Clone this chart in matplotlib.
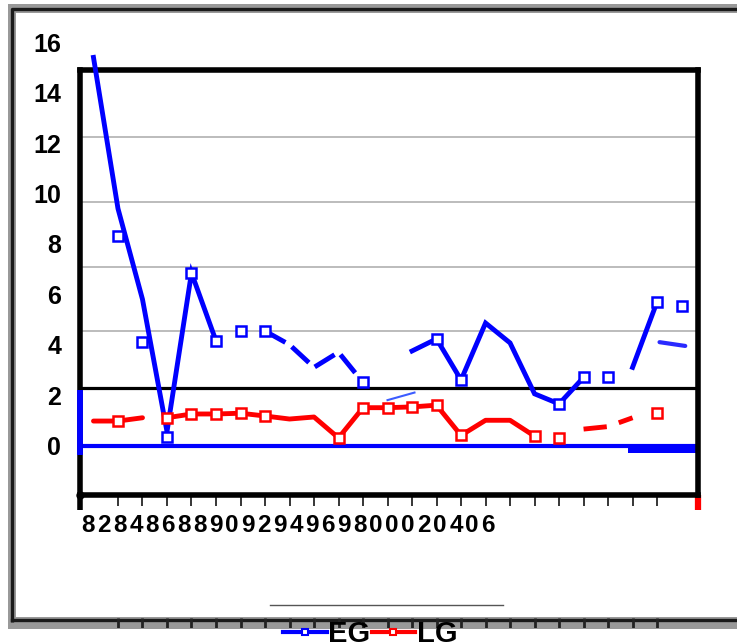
import numpy as np
import matplotlib
matplotlib.use("Agg")
import matplotlib.pyplot as plt
from matplotlib.lines import Line2D

nan = np.nan

# one category per year, 1982..2006
years = list(range(1982, 2007))
year_labels = ["82", "84", "86", "88", "90", "92", "94", "96", "98", "00", "02", "04", "06"]
y_labels = [0, 2, 4, 6, 8, 10, 12, 14, 16]

eg_line = [15.5, 9.5, 5.9, 0.65, 6.95, 4.25, 4.64, 4.64, 4.1, 3.2, 3.8, 2.6, nan,
           3.85, 4.33, 2.7, 4.96, 4.17, 2.15, 1.75, 2.8, 2.8, 3.2, 5.8, 5.65]
eg_marks = [nan, 8.4, 4.2, 0.45, 6.95, 4.25, 4.64, 4.64, nan, nan, nan, 2.6, nan,
            nan, 4.33, 2.7, nan, nan, nan, 1.75, 2.8, 2.8, nan, 5.8, 5.65]
eg_segments = [(0, 5), (7, 11), (13, 20), (22, 23)]

lg_line = [1.07, 1.07, 1.2, 1.2, 1.35, 1.35, 1.38, 1.27, 1.15, 1.23, 0.4, 1.6, 1.6,
           1.63, 1.7, 0.5, 1.1, 1.1, 0.47, 0.4, 0.75, 0.85, 1.2, 1.39, nan]
lg_marks = [nan, 1.07, nan, 1.2, 1.35, 1.35, 1.38, 1.27, nan, nan, 0.4, 1.6, 1.6,
            1.63, 1.7, 0.5, nan, nan, 0.47, 0.4, nan, nan, nan, 1.39, nan]
lg_segments = [(0, 2), (3, 18)]
lg_dashed = (20, 22)

# stray fragments of the blue series
ghost_x = [12.0, 13.1]
ghost_y = [1.9, 2.2]
dash_x = [23.1, 24.15]
dash_y = [4.2, 4.05]

grid_levels = [12.34, 9.76, 7.18, 4.64]
black_level = 2.38
zero_level = 0.08

W, H = 737, 644
plt.rcParams['font.family'] = ['Liberation Sans', 'DejaVu Sans']
fig = plt.figure(figsize=(W / 100, H / 100), dpi=100)

# frame around the whole picture
bg = fig.add_axes([0, 0, 1, 1], zorder=-1)
bg.set_xlim(0, W)
bg.set_ylim(H, 0)
bg.axis('off')
bg.add_patch(plt.Rectangle((8, 4), 800, 625, facecolor='#999999', edgecolor='none',
                           clip_on=False))
bg.plot([12, 12, W + 20], [622, 9, 9], color='#1a1a1a', lw=2.4, solid_capstyle='butt',
        clip_on=False)
bg.plot([12, W + 20], [620, 620], color='#1a1a1a', lw=2.4, clip_on=False)
bg.add_patch(plt.Rectangle((16, 13), 800, 604, facecolor='white', edgecolor='none',
                           clip_on=False))
bg.plot([270, 503], [605, 605], color='#555555', lw=1)

x = np.arange(len(years))
ax = fig.add_axes([80 / W, 1 - 495 / H, 618 / W, 425 / H])
ax.set_xlim(-0.55, 24.67)
ax.set_ylim(-1.865, 15.0)

# ruler marks on the bottom border, same spacing as the categories
ruler = fig.add_axes([80 / W, 1 - 628 / H, 618 / W, 11 / H], sharex=ax, zorder=-0.5)
ruler.axis('off')
ruler.vlines(range(1, 24), 0, 1, color='#222222', lw=2)

for lvl in grid_levels:
    ax.axhline(lvl, color='#aaaaaa', lw=1.1, zorder=1)
ax.axhline(black_level, color='black', lw=2.3, zorder=1)
ax.axhline(zero_level, color='#0000ff', lw=3, zorder=1)
ax.fill_between([21.8, 24.67], -0.2, 0.17, color='#0000ff', lw=0, zorder=1)

blue = '#0000ff'
red = '#ff0000'
eg = np.array(eg_line)
lg = np.array(lg_line)

for a, b in eg_segments:
    if (a, b) == (7, 11):
        ax.plot(x[a:b + 1], eg[a:b + 1], color=blue, lw=3.5, dashes=(4.8, 1.6),
                zorder=3, clip_on=False)
    else:
        ax.plot(x[a:b + 1], eg[a:b + 1], color=blue, lw=3.5, zorder=3,
                clip_on=False, solid_joinstyle='miter')
ax.plot(ghost_x, ghost_y, color='#3c5cff', lw=1.5, zorder=3)
ax.plot(dash_x, dash_y, color='#2a2aff', lw=3, zorder=3, solid_capstyle='round')

for a, b in lg_segments:
    ax.plot(x[a:b + 1], lg[a:b + 1], color=red, lw=3.5, zorder=3, solid_capstyle='round')
a, b = lg_dashed
ax.plot(x[a:b + 1], lg[a:b + 1], color=red, lw=3.5, dashes=(4.8, 2.6), zorder=3)

ax.plot(x, eg_marks, ls='none', marker='s', ms=7, mfc='white', mec=blue, mew=1.8,
        zorder=4, clip_on=False)
ax.plot(x, lg_marks, ls='none', marker='s', ms=7, mfc='white', mec=red, mew=1.8, zorder=4)

for s in ax.spines.values():
    s.set_linewidth(4)
    s.set_color('black')
ax.set_yticks([])
ax.set_xticks(range(1, 24))
ax.tick_params(axis='x', direction='out', length=8, width=1.1, color='black',
               labelbottom=False)

# spine leftovers
ax.plot([0, 0], [0, -15 / 425], transform=ax.transAxes, color='black', lw=4,
        clip_on=False, solid_capstyle='butt')
ax.plot([1, 1], [0, -15 / 425], transform=ax.transAxes, color=red, lw=4.5,
        clip_on=False, solid_capstyle='butt')
ax.plot([0], [0], transform=ax.transAxes, marker='o', ms=5, color='black', clip_on=False)
ax.plot([-0.55, -0.55], [2.3, -0.28], color=blue, lw=4.2, clip_on=False, zorder=5,
        solid_capstyle='butt')

for v in y_labels:
    ax.text(-19 / 618, v, str(v), transform=ax.get_yaxis_transform(), ha='right',
            va='center', fontsize=18, fontweight='bold')

chars = "".join(year_labels)
for j, ch in enumerate(chars):
    ax.text((8 + 16 * j) / 618, -31 / 425, ch, transform=ax.transAxes, ha='center',
            va='center', fontsize=17.5, fontweight='bold')

handles = [Line2D([], [], color=blue, lw=3, marker='s', ms=5, mfc='white', mec=blue, mew=1.5),
           Line2D([], [], color=red, lw=3, marker='s', ms=5, mfc='white', mec=red, mew=1.5)]
fig.legend(handles, ['EG', 'LG'], loc='center', bbox_to_anchor=(370 / W, 1 - 634 / H),
           ncol=2, frameon=False, handlelength=1.5, handletextpad=0.05,
           columnspacing=0.05, prop={'weight': 'bold', 'size': 21}, borderpad=0)

fig.savefig('out.png', dpi=100)
